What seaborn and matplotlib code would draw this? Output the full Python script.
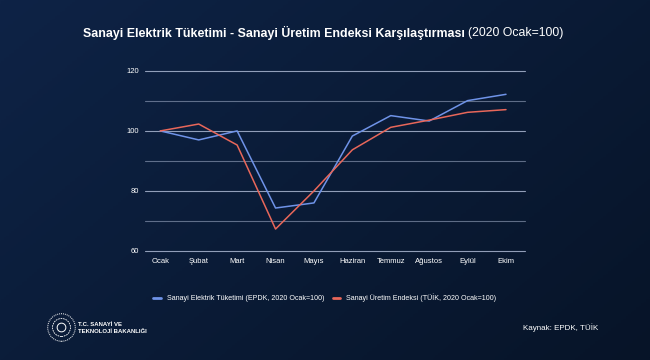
import numpy as np
import pandas as pd
import matplotlib
matplotlib.use("Agg")
import matplotlib.pyplot as plt
import seaborn as sns
from matplotlib.lines import Line2D
from matplotlib.patches import Circle
from matplotlib.colors import LinearSegmentedColormap

months = ["Ocak", "Şubat", "Mart", "Nisan", "Mayıs", "Haziran", "Temmuz", "Ağustos", "Eylül", "Ekim"]
elektrik = [100, 97, 100, 74.3, 76, 98.3, 105.1, 103.3, 110.1, 112.2]
uretim = [100, 102.3, 95.3, 67.3, 80, 93.7, 101.2, 103.6, 106.2, 107.1]
series_names = ["Sanayi Elektrik Tüketimi (EPDK, 2020 Ocak=100)",
                "Sanayi Üretim Endeksi (TÜİK, 2020 Ocak=100)"]
yticks = [60, 80, 100, 120]
grid_levels = [60, 70, 80, 90, 100, 110, 120]

df = pd.DataFrame({
    "x": list(range(len(months))) * 2,
    "value": elektrik + uretim,
    "series": [series_names[0]] * len(months) + [series_names[1]] * len(months),
})

sns.set_theme(style="dark")
plt.rcParams['font.family'] = ['Liberation Sans', 'DejaVu Sans']

bg = "#0b1a33"
fig = plt.figure(figsize=(6.5, 3.6), dpi=100)
fig.patch.set_facecolor(bg)

# background gradient
bgax = fig.add_axes([0, 0, 1, 1], zorder=-10)
grad = np.linspace(0, 1, 256)
X, Y = np.meshgrid(grad, grad)
Z = 0.6 * X + 0.4 * (1 - Y)
cm = LinearSegmentedColormap.from_list("bg", ["#0e2346", "#071428"])
bgax.imshow(Z, cmap=cm, aspect="auto", extent=[0, 1, 0, 1], origin="lower")
bgax.axis("off")

ax = fig.add_axes([0.223, 0.303, 0.585, 0.5])
ax.set_facecolor("none")
palette = {series_names[0]: "#6f93e8", series_names[1]: "#e8675a"}
sns.lineplot(data=df, x="x", y="value", hue="series", palette=palette, ax=ax,
             linewidth=1.1, legend=False)

for g in grid_levels:
    ax.axhline(g, color="#b4c0da", lw=0.8, alpha=0.8 if g in yticks else 0.5,
               zorder=0, clip_on=False)

ax.set_xlim(-0.4, 9.5)
ax.set_ylim(60, 120)
ax.set_xticks(range(len(months)))
ax.set_xticklabels(months)
ax.set_yticks(yticks)
ax.set_yticklabels([str(t) for t in yticks])
ax.tick_params(axis="both", colors="white", labelsize=5.5, length=0, pad=5)
ax.tick_params(axis="y", pad=4)
ax.grid(False)
ax.set_xlabel("")
ax.set_ylabel("")
for s in ax.spines.values():
    s.set_visible(False)

# Title
tfam = ["Liberation Sans Narrow", "Liberation Sans", "DejaVu Sans"]
fig.text(465 / 650, 1 - 33 / 360, "Sanayi Elektrik Tüketimi - Sanayi Üretim Endeksi Karşılaştırması",
         ha="right", va="center", color="white", fontsize=8.9, fontweight="bold", family=tfam)
fig.text(468 / 650, 1 - 33 / 360, "(2020 Ocak=100)", ha="left", va="center", color="white",
         fontsize=8.8, family=tfam)

# Legend
handles = [Line2D([0], [0], color=palette[n], lw=2) for n in series_names]
fig.legend(handles, series_names, loc="center", bbox_to_anchor=(325 / 650, 1 - 298 / 360),
           ncol=2, frameon=False, fontsize=5.1, labelcolor="white", handlelength=1.0,
           handletextpad=0.9, columnspacing=1.2)

# Logo
logo = fig.add_axes([47 / 650, 1 - 342 / 360, 29 / 650, 29 / 360])
logo.set_xlim(-1, 1)
logo.set_ylim(-1, 1)
logo.set_aspect("equal")
logo.axis("off")
logo.add_patch(Circle((0, 0), 0.95, fill=False, ec="white", lw=0.7, ls=(0, (1, 1))))
logo.add_patch(Circle((0, 0), 0.62, fill=False, ec="white", lw=0.6, ls=(0, (2, 1))))
logo.add_patch(Circle((0, 0), 0.3, fill=False, ec="white", lw=0.7))
fig.text(78 / 650, 1 - 328 / 360, "T.C. SANAYİ VE\nTEKNOLOJİ BAKANLIĞI", ha="left", va="center",
         color="white", fontsize=4.3, fontweight="bold", linespacing=1.3)

# Source
fig.text(523 / 650, 1 - 328 / 360, "Kaynak: EPDK, TÜİK", ha="left", va="center",
         color="white", fontsize=5.8)

fig.savefig("out.png", dpi=100, facecolor=fig.get_facecolor())
